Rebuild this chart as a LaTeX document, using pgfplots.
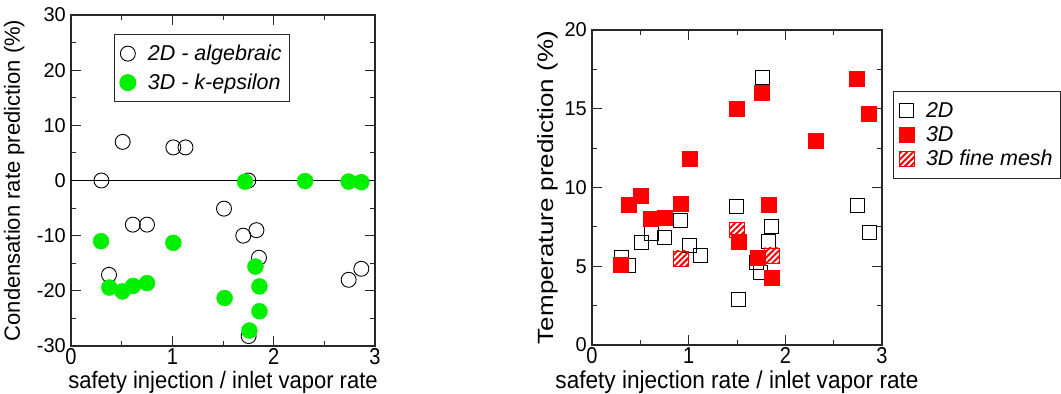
\documentclass[border=0pt]{standalone}
\usepackage{fontspec}
\setmainfont{Liberation Sans}
\usepackage{graphicx}
\usepackage{pgfplots}
\pgfplotsset{compat=1.18}
\usetikzlibrary{patterns.meta}

\definecolor{axgray}{RGB}{40,40,40}
\definecolor{mygreen}{RGB}{0,240,0}

\pgfplotsset{
  myaxis/.style={
    scale only axis,
    axis line style={line width=1.2bp, axgray},
    every tick/.style={line width=1bp, axgray},
    tick align=inside,
    major tick length=10bp,
    minor tick length=5bp,
    xmin=0, xmax=3, xtick={0,1,2,3}, minor x tick num=1,
    /pgf/number format/assume math mode=true,
    ticklabel style={font=\fontsize{20bp}{24bp}\selectfont, inner sep=0pt},
    yticklabel style={xshift=-5bp},
    xticklabel style={yshift=-2.5bp},
    xticklabel={\scalebox{1}[1.15]{\pgfmathprintnumber{\tick}}},
    label style={font=\fontsize{22bp}{26bp}\selectfont, inner sep=0pt},
    legend cell align=left,
    legend style={
      draw=axgray, line width=1bp,
      font=\itshape\fontsize{21.5bp}{25bp}\selectfont,
      inner xsep=5.5bp, inner ysep=9bp,
      nodes={inner sep=2bp},
      /tikz/every odd column/.append style={column sep=10bp},
      /tikz/every even column/.append style={text height=15bp, text depth=4.5bp},
    },
  }
}

\pgfplotstableread{
x y
0.30 0
0.51 7
1.01 6
1.13 6
1.75 0
1.51 -5.1
0.61 -8
0.75 -8
1.70 -10
1.83 -9
1.855 -14
0.375 -17.1
2.74 -18
2.865 -16
1.753 -28.2
}\leftTwoD

\pgfplotstableread{
x y
0.296 -11
0.378 -19.4
0.507 -20.1
0.612 -19.1
0.75 -18.6
1.01 -11.3
1.516 -21.3
1.717 -0.2
2.31 -0.1
2.74 -0.2
2.865 -0.3
1.82 -15.6
1.86 -19.2
1.86 -23.7
1.76 -27.2
}\leftThreeD

\pgfplotstableread{
x y
1.76 17.0
1.498 8.78
2.744 8.87
0.92 7.89
0.611 7.09
0.749 6.81
0.507 6.48
1.008 6.33
1.125 5.69
1.857 7.51
1.83 6.58
2.865 7.17
0.304 5.54
0.38 5.08
1.705 5.25
1.74 4.59
1.515 2.9
}\rightTwoD

\pgfplotstableread{
x y
2.74 16.9
1.76 16.0
1.495 15.0
2.865 14.7
2.316 13.0
1.008 11.8
0.507 9.5
0.376 8.9
0.918 8.95
1.823 8.9
0.611 8.0
0.749 8.08
1.522 6.56
1.719 5.57
0.30 5.1
1.864 4.25
}\rightThreeD

\pgfplotstableread{
x y
1.498 7.3
0.918 5.5
1.864 5.69
}\rightFine

\begin{document}
\begin{tikzpicture}
\useasboundingbox (0,0) rectangle (1061bp,-394bp);

\begin{axis}[myaxis,
  at={(71bp,-346bp)}, anchor=south west,
  width=304bp, height=331bp,
  ymin=-30, ymax=30, ytick={-30,-20,...,30}, minor y tick num=1,
  xlabel={\scalebox{1}[1.08]{safety injection / inlet vapor rate}},
  ylabel={Condensation rate prediction (\%)},
  xlabel style={at={([yshift=-42bp]axis description cs:0.5,0)}, anchor=base},
  ylabel style={at={([xshift=-51bp]axis description cs:0,0.5)}, anchor=base},
  legend style={at={(axis description cs:0.141,0.943)}, anchor=north west, row sep=8.5bp},
]
\addplot[line width=1bp, black, forget plot] coordinates {(0,0) (3,0)};
\addplot[only marks, mark=o, mark size=7.5bp, mark options={line width=0.9bp, black}] table {\leftTwoD};
\addlegendentry{2D - algebraic}
\addplot[only marks, mark=*, mark size=8bp, mark options={draw=mygreen, fill=mygreen}] table {\leftThreeD};
\addlegendentry{3D - k-epsilon}
\end{axis}

\begin{axis}[myaxis,
  at={(592bp,-345bp)}, anchor=south west,
  width=290bp, height=315bp,
  ymin=0, ymax=20, ytick={0,5,10,15,20}, minor y tick num=1,
  xlabel={\scalebox{1}[1.08]{safety injection rate / inlet vapor rate}},
  ylabel={\scalebox{1.18}[1]{Temperature prediction (\%)}},
  xlabel style={at={([yshift=-43bp]axis description cs:0.5,0)}, anchor=base, font=\fontsize{22.6bp}{26bp}\selectfont},
  ylabel style={at={([xshift=-39bp]axis description cs:0,0.5)}, anchor=base},
  legend style={at={(axis description cs:1.038,0.806)}, anchor=north west, row sep=3.5bp},
]
\addplot[only marks, mark=square, mark size=7bp, mark options={line width=0.9bp, black}] table {\rightTwoD};
\addlegendentry{2D}
\addplot[only marks, mark=square*, mark size=7.5bp, mark options={draw=red, fill=red}] table {\rightThreeD};
\addlegendentry{3D}
\addplot[only marks, mark=square*, mark size=7.5bp, mark options={draw=red, line width=0.5bp, pattern={Lines[angle=45,distance=4.2bp,line width=2bp]}, pattern color=red}] table {\rightFine};
\addlegendentry{3D fine mesh}
\end{axis}
\end{tikzpicture}
\end{document}
